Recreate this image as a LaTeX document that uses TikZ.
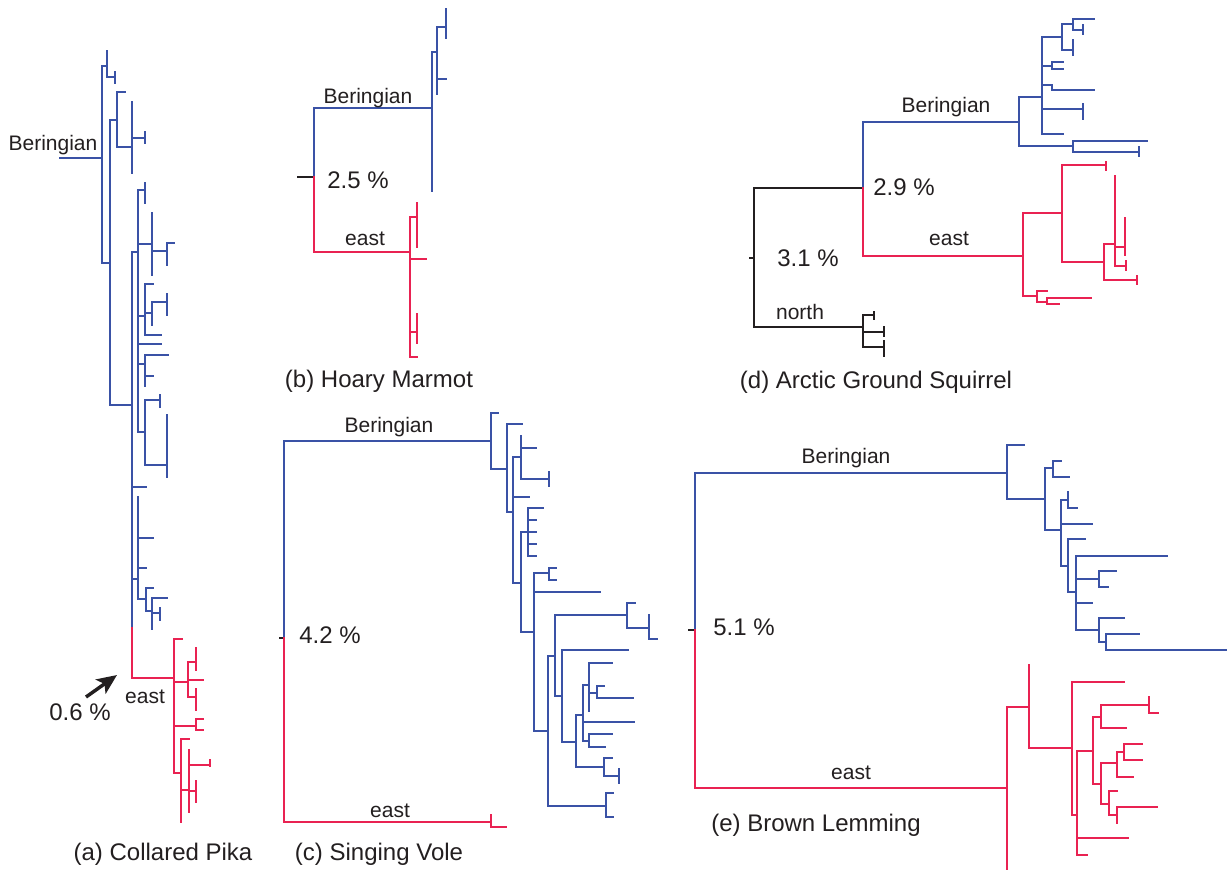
\documentclass[tikz,border=0pt]{standalone}
\usepackage{fontspec}
\setmainfont{Liberation Sans}
\usetikzlibrary{arrows.meta}
\definecolor{blueT}{RGB}{58,82,166}
\definecolor{redT}{RGB}{233,34,82}
\definecolor{inkT}{RGB}{35,31,32}
\newcommand{\myH}[3]{\draw (#1,#3) -- (#2,#3);}
\newcommand{\myV}[3]{\draw (#1,#2) -- (#1,#3);}
\tikzset{
  bl/.style={color=blueT, line width=2.2pt, line cap=rect},
  rd/.style={color=redT, line width=2.2pt, line cap=rect},
  bk/.style={color=inkT, line width=2.2pt, line cap=rect},
  lbl/.style={inner sep=0pt, anchor=base, text=inkT, font=\fontsize{15.75}{17}\selectfont},
  pct/.style={inner sep=0pt, anchor=base, text=inkT, font=\fontsize{18}{20}\selectfont},
  ttl/.style={inner sep=0pt, anchor=base, text=inkT, font=\fontsize{18}{20}\selectfont}
}
\begin{document}
\begin{tikzpicture}[x=0.75pt, y=-0.75pt]
\useasboundingbox (0,0) rectangle (1227,869);
\fill[white] (0,0) rectangle (1227,869);
% ================= (a) Collared Pika =================
\begin{scope}[bl]
\myV{102}{66}{263}
\myH{60}{102}{158}
\myH{102}{107}{66}
\myV{107}{51}{77}
\myH{107}{115}{77}
\myV{115}{72}{83}
\myH{102}{110}{263}
\myV{110}{120}{405}
\myH{110}{117}{120}
\myV{117}{92}{147}
\myH{117}{125}{92}
\myH{117}{132}{147}
\myV{132}{102}{173}
\myH{132}{145}{138}
\myV{145}{132}{143}
\myH{110}{132}{405}
\myV{132}{252}{628}
\myH{132}{138}{252}
\myV{138}{190}{432}
\myH{138}{145}{190}
\myV{145}{183}{203}
\myH{138}{152}{244}
\myV{152}{213}{275}
\myH{152}{167}{251}
\myV{167}{243}{265}
\myH{167}{174}{243}
\myH{138}{145}{316}
\myV{145}{284}{335}
\myH{145}{153}{284}
\myH{145}{161}{335}
\myH{145}{152}{313}
\myV{152}{302}{325}
\myH{152}{167}{302}
\myV{167}{294}{315}
\myH{138}{161}{344}
\myH{138}{145}{364}
\myV{145}{355}{386}
\myH{145}{168}{355}
\myH{145}{153}{376}
\myH{138}{145}{432}
\myV{145}{400}{465}
\myH{145}{160}{400}
\myV{160}{395}{407}
\myH{145}{167}{465}
\myV{167}{415}{477}
\myH{132}{146}{487}
\myH{132}{138}{579}
\myV{138}{497}{599}
\myH{138}{153}{538}
\myH{138}{146}{568}
\myH{138}{146}{599}
\myV{146}{588}{611}
\myH{146}{153}{588}
\myH{146}{152}{611}
\myV{152}{598}{629}
\myH{152}{167}{598}
\myH{152}{160}{613}
\myV{160}{608}{620}
\end{scope}
\begin{scope}[rd]
\myV{132}{628}{678}
\myH{132}{174}{678}
\myV{174}{639}{773}
\myH{174}{182}{639}
\myH{174}{188}{682}
\myV{188}{662}{697}
\myH{188}{196}{662}
\myV{196}{648}{670}
\myH{188}{203}{680}
\myH{188}{196}{697}
\myV{196}{689}{710}
\myH{174}{196}{726}
\myV{196}{719}{730}
\myH{196}{203}{719}
\myH{196}{203}{730}
\myH{174}{181}{773}
\myV{181}{739}{822}
\myH{181}{189}{739}
\myH{181}{189}{790}
\myV{189}{750}{812}
\myH{189}{210}{765}
\myV{210}{760}{766}
\myH{189}{196}{791}
\myV{196}{781}{802}
\end{scope}
\node[lbl] (aBer) at (53,150) {Beringian};
\node[lbl] (aEast) at (145,703) {east};
\node[pct] (aPct) at (80,720) {0.6 \%};
\coordinate (aTail) at (86,697);
\coordinate (aTip) at (117,675);
\draw[color=inkT, line width=2.6pt, -{Stealth[length=15pt, width=13pt, inset=3.5pt]}] (aTail) -- (aTip);
\node[ttl] (aTitle) at (163,860) {(a) Collared Pika};
% ================= (b) Hoary Marmot =================
\begin{scope}[bk]
\myH{298}{314}{177}
\end{scope}
\begin{scope}[bl]
\myV{314}{108}{177}
\myH{314}{432}{108}
\myV{432}{52}{191}
\myH{432}{437}{52}
\myV{437}{27}{94}
\myH{437}{446}{27}
\myV{446}{9}{38}
\myH{437}{446}{79}
\end{scope}
\begin{scope}[rd]
\myV{314}{177}{252}
\myH{314}{410}{252}
\myV{410}{217}{357}
\myH{410}{417}{217}
\myV{417}{203}{247}
\myH{410}{426}{259}
\myH{410}{417}{332}
\myV{417}{314}{343}
\myH{410}{417}{357}
\end{scope}
\node[lbl] (bBer) at (368,103) {Beringian};
\node[pct] (bPct) at (358,188) {2.5 \%};
\node[lbl] (bEast) at (365,245) {east};
\node[ttl] (bTitle) at (379,387) {(b) Hoary Marmot};
% ================= (d) Arctic Ground Squirrel =================
\begin{scope}[bk]
\myH{750}{754}{258}
\myV{754}{188}{327}
\myH{754}{863}{188}
\myH{754}{863}{327}
\myV{863}{315}{347}
\myH{863}{874}{315}
\myV{874}{312}{319}
\myH{863}{884}{332}
\myV{884}{327}{336}
\myH{863}{884}{347}
\myV{884}{341}{356}
\end{scope}
\begin{scope}[bl]
\myV{863}{122}{188}
\myH{863}{1019}{122}
\myV{1019}{97}{146}
\myH{1019}{1042}{97}
\myV{1042}{37}{134}
\myH{1042}{1062}{37}
\myV{1062}{24}{50}
\myH{1062}{1073}{24}
\myV{1073}{19}{30}
\myH{1073}{1094}{19}
\myH{1073}{1083}{30}
\myV{1083}{25}{34}
\myH{1062}{1073}{50}
\myV{1073}{40}{55}
\myH{1042}{1052}{66}
\myV{1052}{62}{69}
\myH{1052}{1063}{62}
\myH{1052}{1063}{69}
\myH{1042}{1052}{85}
\myV{1052}{85}{90}
\myH{1052}{1094}{90}
\myH{1042}{1083}{109}
\myV{1083}{104}{119}
\myH{1042}{1063}{134}
\myH{1019}{1073}{146}
\myV{1073}{141}{152}
\myH{1073}{1147}{141}
\myH{1073}{1139}{152}
\myV{1139}{147}{156}
\end{scope}
\begin{scope}[rd]
\myV{863}{188}{256}
\myH{863}{1023}{256}
\myV{1023}{213}{296}
\myH{1023}{1062}{213}
\myV{1062}{165}{262}
\myH{1062}{1106}{165}
\myV{1106}{162}{170}
\myH{1062}{1104}{262}
\myV{1104}{244}{280}
\myH{1104}{1115}{244}
\myV{1115}{176}{266}
\myH{1115}{1125}{247}
\myV{1125}{218}{255}
\myH{1115}{1126}{266}
\myV{1126}{261}{270}
\myH{1104}{1137}{280}
\myV{1137}{276}{284}
\myH{1023}{1037}{296}
\myV{1037}{291}{302}
\myH{1037}{1047}{291}
\myH{1037}{1047}{302}
\myV{1047}{298}{304}
\myH{1047}{1091}{298}
\myH{1047}{1059}{304}
\end{scope}
\node[lbl] (dBer) at (946,112) {Beringian};
\node[pct] (dPct) at (904,195) {2.9 \%};
\node[lbl] (dEast) at (949,245) {east};
\node[pct] (dPctB) at (808,266) {3.1 \%};
\node[lbl] (dNorth) at (800,319) {north};
\node[ttl] (dTitle) at (876,388) {(d) Arctic Ground Squirrel};
% ================= (c) Singing Vole =================
\begin{scope}[bk]
\myH{280}{284}{638}
\end{scope}
\begin{scope}[bl]
\myV{284}{441}{638}
\myH{284}{491}{441}
\myV{491}{413}{469}
\myH{491}{498}{413}
\myH{491}{507}{469}
\myV{507}{424}{512}
\myH{507}{522}{424}
\myH{507}{513}{512}
\myV{513}{457}{583}
\myH{513}{521}{457}
\myV{521}{436}{479}
\myH{521}{536}{448}
\myH{521}{549}{479}
\myV{549}{472}{486}
\myH{513}{529}{497}
\myH{513}{521}{583}
\myV{521}{532}{632}
\myH{521}{528}{532}
\myV{528}{508}{556}
\myH{528}{543}{508}
\myH{528}{536}{520}
\myH{528}{536}{532}
\myH{528}{536}{544}
\myH{528}{536}{556}
\myH{521}{534}{632}
\myV{534}{573}{731}
\myH{534}{549}{573}
\myV{549}{568}{580}
\myH{549}{556}{568}
\myH{549}{556}{580}
\myH{534}{600}{592}
\myH{534}{548}{731}
\myV{548}{656}{806}
\myH{548}{555}{656}
\myV{555}{615}{696}
\myH{555}{627}{615}
\myV{627}{603}{628}
\myH{627}{635}{603}
\myH{627}{649}{628}
\myV{649}{615}{639}
\myH{649}{657}{639}
\myH{555}{562}{696}
\myV{562}{650}{742}
\myH{562}{628}{650}
\myH{562}{576}{742}
\myV{576}{715}{767}
\myH{576}{583}{715}
\myV{583}{685}{741}
\myH{583}{589}{685}
\myV{589}{663}{711}
\myH{589}{612}{663}
\myH{589}{597}{693}
\myV{597}{686}{698}
\myH{597}{604}{686}
\myH{597}{633}{698}
\myH{583}{634}{722}
\myH{583}{589}{741}
\myV{589}{734}{747}
\myH{589}{612}{734}
\myH{589}{605}{747}
\myH{576}{604}{767}
\myV{604}{758}{776}
\myH{604}{612}{758}
\myH{604}{619}{776}
\myV{619}{769}{783}
\myH{548}{606}{806}
\myV{606}{793}{817}
\myH{606}{613}{793}
\myH{606}{613}{817}
\end{scope}
\begin{scope}[rd]
\myV{284}{638}{822}
\myH{284}{491}{822}
\myV{491}{815}{827}
\myH{491}{506}{827}
\end{scope}
\node[lbl] (cBer) at (389,432) {Beringian};
\node[pct] (cPct) at (330,643) {4.2 \%};
\node[lbl] (cEast) at (390,817) {east};
\node[ttl] (cTitle) at (379,860) {(c) Singing Vole};
% ================= (e) Brown Lemming =================
\begin{scope}[bk]
\myH{689}{695}{630}
\end{scope}
\begin{scope}[bl]
\myV{695}{473}{630}
\myH{695}{1007}{473}
\myV{1007}{445}{499}
\myH{1007}{1024}{445}
\myH{1007}{1045}{499}
\myV{1045}{468}{530}
\myH{1045}{1053}{468}
\myV{1053}{461}{477}
\myH{1053}{1061}{461}
\myH{1053}{1069}{477}
\myH{1045}{1061}{530}
\myV{1061}{500}{566}
\myH{1061}{1068}{500}
\myV{1068}{492}{508}
\myH{1068}{1077}{508}
\myH{1061}{1092}{524}
\myH{1061}{1068}{566}
\myV{1068}{539}{592}
\myH{1068}{1085}{539}
\myH{1068}{1076}{592}
\myV{1076}{556}{630}
\myH{1076}{1167}{556}
\myH{1076}{1099}{579}
\myV{1099}{571}{587}
\myH{1099}{1116}{571}
\myH{1099}{1108}{587}
\myH{1076}{1092}{603}
\myH{1076}{1099}{630}
\myV{1099}{618}{642}
\myH{1099}{1124}{618}
\myH{1099}{1106}{642}
\myV{1106}{634}{650}
\myH{1106}{1139}{634}
\myH{1106}{1230}{650}
\end{scope}
\begin{scope}[rd]
\myV{695}{630}{788}
\myH{695}{1007}{788}
\myV{1007}{707}{872}
\myH{1007}{1029}{707}
\myV{1029}{665}{748}
\myH{1029}{1072}{748}
\myV{1072}{682}{815}
\myH{1072}{1124}{682}
\myH{1072}{1077}{815}
\myV{1077}{751}{855}
\myH{1077}{1093}{751}
\myV{1093}{717}{784}
\myH{1093}{1101}{717}
\myV{1101}{705}{728}
\myH{1101}{1149}{705}
\myV{1149}{697}{713}
\myH{1149}{1158}{713}
\myH{1101}{1126}{728}
\myH{1093}{1101}{784}
\myV{1101}{763}{804}
\myH{1101}{1117}{763}
\myV{1117}{752}{777}
\myH{1117}{1124}{752}
\myV{1124}{744}{760}
\myH{1124}{1142}{744}
\myH{1124}{1142}{760}
\myH{1117}{1133}{777}
\myH{1101}{1109}{804}
\myV{1109}{791}{815}
\myH{1109}{1117}{791}
\myH{1109}{1117}{815}
\myV{1117}{807}{823}
\myH{1117}{1157}{807}
\myH{1077}{1128}{838}
\myH{1077}{1087}{855}
\end{scope}
\node[lbl] (eBer) at (846,463) {Beringian};
\node[pct] (ePct) at (744,635) {5.1 \%};
\node[lbl] (eEast) at (851,779) {east};
\node[ttl] (eTitle) at (816,831) {(e) Brown Lemming};
\end{tikzpicture}
\end{document}
